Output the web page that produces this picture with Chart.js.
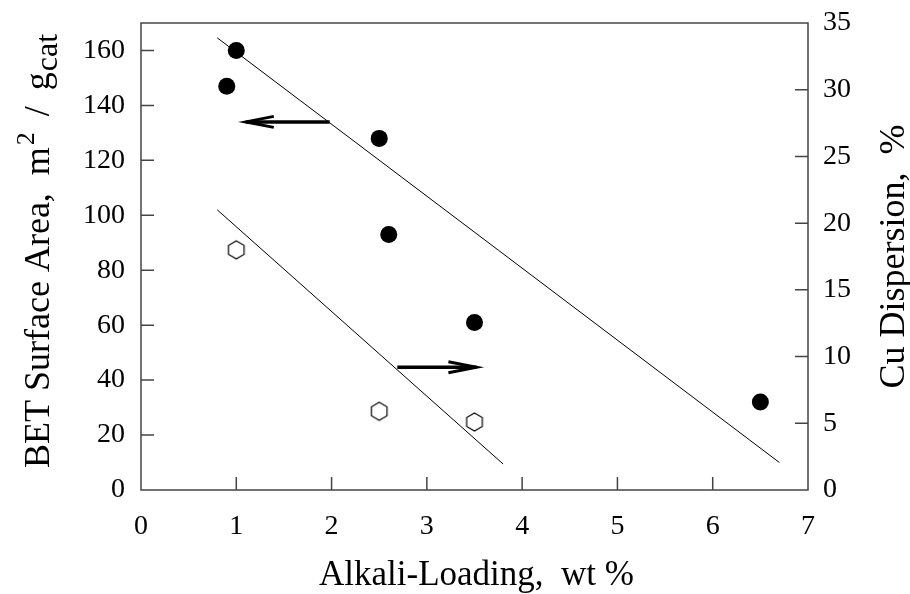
<!DOCTYPE html>
<html>
<head>
<meta charset="utf-8">
<script src="https://cdn.jsdelivr.net/npm/chart.js@4/dist/chart.umd.min.js"></script>
<style>
html,body{margin:0;padding:0;background:#fff;}
canvas{display:block;}
</style>
</head>
<body>
<canvas id="c" width="910" height="594"></canvas>
<script>
// ---- data ----
const xTicks = [0, 1, 2, 3, 4, 5, 6, 7];
const leftTicks = [0, 20, 40, 60, 80, 100, 120, 140, 160];
const rightTicks = [0, 5, 10, 15, 20, 25, 30, 35];

// BET surface area (left axis, filled circles)
const betLoading = [0.9, 1.0, 2.5, 2.6, 3.5, 6.5];
const betArea = [147, 160, 128, 93, 61, 32];

// Cu dispersion (right axis, open hexagons)
const cuLoading = [1.0, 2.5, 3.5];
const cuDispersion = [18.0, 5.9, 5.1];

// trend lines
const betFitX = [0.8, 6.7];
const betFitY = [164.6, 10.0];
const cuFitX = [0.8, 3.8];
const cuFitY = [21.0, 1.95];

// arrows (start -> tip)
const arrowLeftX = [1.98, 1.1];
const arrowLeftY = [134, 134];
const arrowRightX = [2.69, 3.52];
const arrowRightY = [9.2, 9.2];

const xTitle = 'Alkali-Loading,  wt %';
const yRightTitle = 'Cu Dispersion,  %';

const pts = (xs, ys) => xs.map((x, i) => ({x: x, y: ys[i]}));

function makeHex(r) {
  const w = Math.ceil(2 * r * Math.cos(Math.PI / 6)) + 4, h = Math.ceil(2 * r) + 4;
  const cv = document.createElement('canvas');
  cv.width = w; cv.height = h;
  const g = cv.getContext('2d');
  g.beginPath();
  for (let k = 0; k < 6; k++) {
    const a = -Math.PI / 2 + k * Math.PI / 3;
    const px = w / 2 + r * Math.cos(a), py = h / 2 + r * Math.sin(a);
    if (k === 0) g.moveTo(px, py); else g.lineTo(px, py);
  }
  g.closePath();
  g.fillStyle = '#fff'; g.fill();
  g.lineWidth = 1.2; g.strokeStyle = '#000'; g.stroke();
  return cv;
}
const hex = makeHex(9);

const FONT = '"Liberation Serif", "Times New Roman", serif';
const FRAME = '#444';

const frameAndTicks = {
  id: 'frameAndTicks',
  afterDatasetsDraw(chart) {
    const ctx = chart.ctx, a = chart.chartArea;
    const TL = 13;
    ctx.save();
    ctx.strokeStyle = FRAME;
    ctx.lineWidth = 1.5;
    ctx.strokeRect(a.left, a.top, a.right - a.left, a.bottom - a.top);
    ctx.beginPath();
    const sx = chart.scales.x, sy = chart.scales.y, sy2 = chart.scales.y2;
    xTicks.forEach(v => {
      if (v === sx.min || v === sx.max) return;
      const p = sx.getPixelForValue(v);
      ctx.moveTo(p, a.bottom); ctx.lineTo(p, a.bottom - TL);
    });
    leftTicks.forEach(v => {
      if (v === sy.min || v === sy.max) return;
      const p = sy.getPixelForValue(v);
      ctx.moveTo(a.left, p); ctx.lineTo(a.left + TL, p);
    });
    rightTicks.forEach(v => {
      if (v === sy2.min || v === sy2.max) return;
      const p = sy2.getPixelForValue(v);
      ctx.moveTo(a.right, p); ctx.lineTo(a.right - TL, p);
    });
    ctx.stroke();

    chart.data.datasets.forEach((ds, i) => {
      if (!ds.isArrow) return;
      const meta = chart.getDatasetMeta(i);
      const n = meta.data.length;
      const p1 = meta.data[n - 2], p2 = meta.data[n - 1];
      const ang = Math.atan2(p2.y - p1.y, p2.x - p1.x);
      const L = 28, Wd = 5.5;
      const bx = Math.cos(ang), by = Math.sin(ang);
      const nx = -by, ny = bx;
      ctx.beginPath();
      ctx.strokeStyle = '#000';
      ctx.lineWidth = 3;
      ctx.moveTo(p2.x - bx * L + nx * Wd, p2.y - by * L + ny * Wd);
      ctx.lineTo(p2.x, p2.y);
      ctx.lineTo(p2.x - bx * L - nx * Wd, p2.y - by * L - ny * Wd);
      ctx.stroke();
    });
    ctx.restore();
  },
  afterDraw(chart) {
    const ctx = chart.ctx, a = chart.chartArea;
    ctx.save();
    ctx.fillStyle = '#000';
    ctx.font = '35px ' + FONT;
    ctx.textAlign = 'center';
    ctx.textBaseline = 'alphabetic';
    ctx.fillText(xTitle, (a.left + a.right) / 2 + 2, 585);

    // left title (rotated, reading bottom to top) with super/subscript
    ctx.save();
    ctx.translate(49, 468);
    ctx.rotate(-Math.PI / 2);
    ctx.textAlign = 'left';
    const parts = [
      {t: 'BET Surface Area,  m', f: '36px ' + FONT, dy: 0, gap: 0},
      {t: '2', f: '26px ' + FONT, dy: -15, gap: 2},
      {t: '/', f: '36px ' + FONT, dy: 0, gap: 16},
      {t: 'g', f: '36px ' + FONT, dy: 0, gap: 16},
      {t: 'cat', f: '32px ' + FONT, dy: 8, gap: 1}
    ];
    let x = 0;
    parts.forEach(p => {
      ctx.font = p.f;
      x += p.gap;
      ctx.fillText(p.t, x, p.dy);
      x += ctx.measureText(p.t).width;
    });
    ctx.restore();

    // right title (rotated, reading bottom to top)
    ctx.save();
    ctx.translate(904, (a.top + a.bottom) / 2);
    ctx.rotate(-Math.PI / 2);
    ctx.font = '36px ' + FONT;
    ctx.textAlign = 'center';
    ctx.fillText(yRightTitle, 0, 0);
    ctx.restore();
    ctx.restore();
  }
};

const zeroPad = s => { s.paddingTop = 0; s.paddingBottom = 0; s.paddingLeft = 0; s.paddingRight = 0; };

new Chart(document.getElementById('c'), {
  type: 'scatter',
  data: {
    datasets: [
      {data: pts(betFitX, betFitY), yAxisID: 'y', showLine: true, borderColor: '#000', borderWidth: 1, pointRadius: 0, fill: false},
      {data: pts(cuFitX, cuFitY), yAxisID: 'y2', showLine: true, borderColor: '#000', borderWidth: 1, pointRadius: 0, fill: false},
      {data: pts(arrowLeftX, arrowLeftY), yAxisID: 'y', showLine: true, borderColor: '#000', borderWidth: 3.5, pointRadius: 0, isArrow: true, borderCapStyle: 'butt'},
      {data: pts(arrowRightX, arrowRightY), yAxisID: 'y2', showLine: true, borderColor: '#000', borderWidth: 3.5, pointRadius: 0, isArrow: true, borderCapStyle: 'butt'},
      {data: pts(betLoading, betArea), yAxisID: 'y', pointStyle: 'circle', pointRadius: 8.5, backgroundColor: '#000', borderWidth: 0},
      {data: pts(cuLoading, cuDispersion), yAxisID: 'y2', pointStyle: hex, pointRadius: 9}
    ]
  },
  options: {
    responsive: false,
    devicePixelRatio: 1,
    animation: false,
    layout: {padding: {top: 23, left: 0, right: 0, bottom: 0}},
    plugins: {legend: {display: false}, tooltip: {enabled: false}},
    scales: {
      x: {
        type: 'linear', min: 0, max: 7,
        afterBuildTicks: s => { s.ticks = xTicks.map(v => ({value: v})); },
        afterFit: s => { s.height = 104; zeroPad(s); },
        grid: {display: false, drawTicks: false},
        border: {display: false},
        ticks: {color: '#000', font: {family: FONT, size: 28}, padding: 20, maxRotation: 0}
      },
      y: {
        type: 'linear', position: 'left', min: 0, max: 170,
        afterBuildTicks: s => { s.ticks = leftTicks.map(v => ({value: v})); },
        afterFit: s => { s.width = 141; zeroPad(s); },
        grid: {display: false, drawTicks: false},
        border: {display: false},
        ticks: {color: '#000', font: {family: FONT, size: 28}, padding: 16}
      },
      y2: {
        type: 'linear', position: 'right', min: 0, max: 35,
        afterBuildTicks: s => { s.ticks = rightTicks.map(v => ({value: v})); },
        afterFit: s => { s.width = 102; zeroPad(s); },
        grid: {display: false, drawTicks: false},
        border: {display: false},
        ticks: {color: '#000', font: {family: FONT, size: 28}, padding: 15}
      }
    }
  },
  plugins: [frameAndTicks]
});
</script>
</body>
</html>
